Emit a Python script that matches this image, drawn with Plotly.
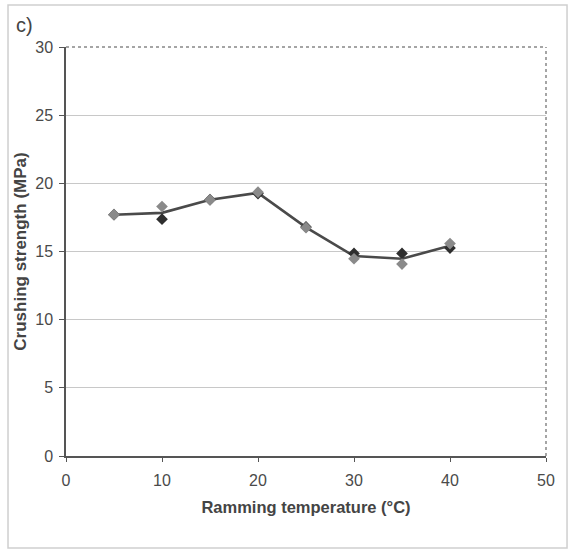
import plotly.graph_objects as go

temps = [5, 10, 15, 20, 25, 30, 35, 40]
series_dark = [17.7, 17.37, 18.8, 19.25, 16.8, 14.86, 14.86, 15.25]
series_gray = [17.7, 18.3, 18.78, 19.35, 16.75, 14.47, 14.08, 15.58]
mean_vals = [(a + b) / 2 for a, b in zip(series_dark, series_gray)]

x_ticks = [0, 10, 20, 30, 40, 50]
y_ticks = [0, 5, 10, 15, 20, 25, 30]

fig = go.Figure()
fig.add_trace(go.Scatter(x=temps, y=mean_vals, mode="lines",
                         line=dict(color="#4a4a4a", width=2.6), showlegend=False))
fig.add_trace(go.Scatter(x=temps, y=series_dark, mode="markers",
                         marker=dict(symbol="diamond", size=9, color="#2e2e2e"), showlegend=False))
fig.add_trace(go.Scatter(x=temps, y=series_gray, mode="markers",
                         marker=dict(symbol="diamond", size=9, color="#8a8a8a"), showlegend=False))

font = "Liberation Sans, Arial, sans-serif"
fig.update_layout(
    width=569, height=554,
    margin=dict(l=66, r=23, t=47, b=98),
    paper_bgcolor="white", plot_bgcolor="white",
    font=dict(family=font, color="#444", size=13),
    xaxis=dict(range=[0, 50], tickvals=x_ticks, showgrid=False, zeroline=False,
               showline=True, linecolor="#555", linewidth=1.5,
               ticks="outside", ticklen=4, tickcolor="#555",
               ticklabelstandoff=5,
               tickfont=dict(size=16, color="#4a4a4a"),
               title=dict(text="<b>Ramming temperature (°C)</b>",
                          font=dict(size=16.5, color="#444"), standoff=13)),
    yaxis=dict(range=[0, 30], tickvals=y_ticks, showgrid=True, gridcolor="#c8c8c8",
               gridwidth=1, zeroline=False,
               showline=True, linecolor="#555", linewidth=1.5,
               ticks="outside", ticklen=5, tickcolor="#555",
               ticklabelstandoff=3,
               tickfont=dict(size=16, color="#4a4a4a"),
               title=dict(text="<b>Crushing strength (MPa)</b>",
                          font=dict(size=17, color="#444"), standoff=4)),
    shapes=[
        dict(type="line", xref="paper", yref="paper", x0=0, x1=1, y0=1, y1=1,
             line=dict(color="#888", width=1.5, dash="dot")),
        dict(type="line", xref="paper", yref="paper", x0=1, x1=1, y0=0, y1=1,
             line=dict(color="#888", width=1.5, dash="dot")),
        dict(type="rect", xref="paper", yref="paper", x0=-0.1208, x1=1.0438,
             y0=-0.2249, y1=1.1027, line=dict(color="#cfcfcf", width=1.5)),
    ],
    annotations=[
        dict(text="c)", xref="paper", yref="paper", x=-0.108, y=1.085,
             xanchor="left", yanchor="top", showarrow=False,
             font=dict(size=20, color="#444", family=font)),
    ],
)

fig.write_html("out.html")
